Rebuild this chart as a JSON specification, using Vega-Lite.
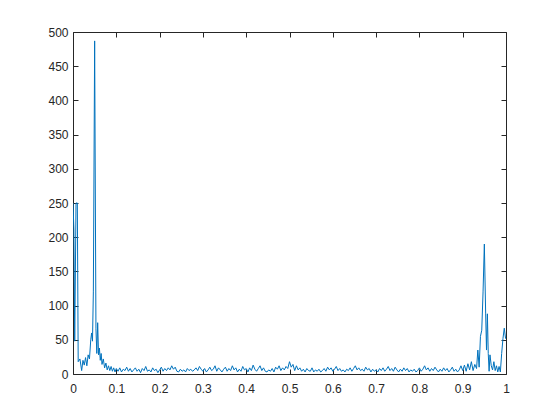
{
  "$schema": "https://vega.github.io/schema/vega-lite/v6.json",
  "width": 433,
  "height": 342,
  "autosize": {"type": "none"},
  "padding": {"left": 73, "top": 32, "right": 54, "bottom": 46},
  "background": "white",
  "config": {
    "view": {"stroke": null},
    "axis": {
      "grid": false,
      "domainColor": "#262626",
      "domainWidth": 1,
      "tickColor": "#262626",
      "tickSize": -5,
      "labelFont": "Liberation Sans",
      "labelFontSize": 12,
      "labelColor": "#262626",
      "title": null
    }
  },
  "data": {
    "values": [
      {"f": 0.000, "a": 250}, {"f": 0.002, "a": 212}, {"f": 0.004, "a": 48}, {"f": 0.007, "a": 250},
      {"f": 0.010, "a": 250}, {"f": 0.012, "a": 18}, {"f": 0.016, "a": 22}, {"f": 0.020, "a": 5},
      {"f": 0.023, "a": 20}, {"f": 0.026, "a": 13}, {"f": 0.029, "a": 24}, {"f": 0.032, "a": 12},
      {"f": 0.035, "a": 28}, {"f": 0.038, "a": 22}, {"f": 0.041, "a": 50}, {"f": 0.043, "a": 60},
      {"f": 0.045, "a": 48}, {"f": 0.047, "a": 120}, {"f": 0.050, "a": 487}, {"f": 0.053, "a": 66},
      {"f": 0.055, "a": 30}, {"f": 0.057, "a": 75}, {"f": 0.059, "a": 28}, {"f": 0.061, "a": 38},
      {"f": 0.063, "a": 20}, {"f": 0.065, "a": 30}, {"f": 0.067, "a": 14}, {"f": 0.070, "a": 22},
      {"f": 0.073, "a": 9}, {"f": 0.076, "a": 16}, {"f": 0.079, "a": 6}, {"f": 0.082, "a": 12},
      {"f": 0.085, "a": 5}, {"f": 0.088, "a": 11}, {"f": 0.091, "a": 4}, {"f": 0.094, "a": 9},
      {"f": 0.097, "a": 3}, {"f": 0.100, "a": 8},
      {"f": 0.104, "a": 4}, {"f": 0.108, "a": 9}, {"f": 0.112, "a": 3}, {"f": 0.116, "a": 7},
      {"f": 0.120, "a": 5}, {"f": 0.124, "a": 10}, {"f": 0.128, "a": 4}, {"f": 0.132, "a": 8},
      {"f": 0.136, "a": 3}, {"f": 0.140, "a": 6}, {"f": 0.144, "a": 9}, {"f": 0.148, "a": 4},
      {"f": 0.152, "a": 7}, {"f": 0.156, "a": 2}, {"f": 0.160, "a": 8}, {"f": 0.164, "a": 5},
      {"f": 0.168, "a": 11}, {"f": 0.172, "a": 4}, {"f": 0.176, "a": 6}, {"f": 0.180, "a": 3},
      {"f": 0.184, "a": 9}, {"f": 0.188, "a": 5}, {"f": 0.192, "a": 7}, {"f": 0.196, "a": 2},
      {"f": 0.200, "a": 6}, {"f": 0.204, "a": 10}, {"f": 0.208, "a": 4}, {"f": 0.212, "a": 8},
      {"f": 0.216, "a": 5}, {"f": 0.220, "a": 9}, {"f": 0.224, "a": 6}, {"f": 0.228, "a": 12},
      {"f": 0.232, "a": 7}, {"f": 0.236, "a": 10}, {"f": 0.240, "a": 4}, {"f": 0.244, "a": 3},
      {"f": 0.248, "a": 7}, {"f": 0.252, "a": 4}, {"f": 0.256, "a": 6}, {"f": 0.260, "a": 3},
      {"f": 0.264, "a": 8}, {"f": 0.268, "a": 5}, {"f": 0.272, "a": 7}, {"f": 0.276, "a": 4},
      {"f": 0.280, "a": 6}, {"f": 0.284, "a": 9}, {"f": 0.288, "a": 5}, {"f": 0.292, "a": 11},
      {"f": 0.296, "a": 7}, {"f": 0.300, "a": 4}, {"f": 0.304, "a": 8}, {"f": 0.308, "a": 3},
      {"f": 0.312, "a": 6}, {"f": 0.316, "a": 10}, {"f": 0.320, "a": 5}, {"f": 0.324, "a": 7},
      {"f": 0.328, "a": 12}, {"f": 0.332, "a": 4}, {"f": 0.336, "a": 9}, {"f": 0.340, "a": 6},
      {"f": 0.344, "a": 3}, {"f": 0.348, "a": 7}, {"f": 0.352, "a": 10}, {"f": 0.356, "a": 4},
      {"f": 0.360, "a": 8}, {"f": 0.364, "a": 5}, {"f": 0.368, "a": 12}, {"f": 0.372, "a": 6},
      {"f": 0.376, "a": 9}, {"f": 0.380, "a": 3}, {"f": 0.384, "a": 7}, {"f": 0.388, "a": 4},
      {"f": 0.392, "a": 11}, {"f": 0.396, "a": 6}, {"f": 0.400, "a": 8}, {"f": 0.404, "a": 3},
      {"f": 0.408, "a": 9}, {"f": 0.412, "a": 5}, {"f": 0.416, "a": 13}, {"f": 0.420, "a": 7},
      {"f": 0.424, "a": 4}, {"f": 0.428, "a": 8}, {"f": 0.432, "a": 12}, {"f": 0.436, "a": 5},
      {"f": 0.440, "a": 9}, {"f": 0.444, "a": 4}, {"f": 0.448, "a": 3}, {"f": 0.452, "a": 6},
      {"f": 0.456, "a": 4}, {"f": 0.460, "a": 8}, {"f": 0.464, "a": 3}, {"f": 0.468, "a": 10},
      {"f": 0.472, "a": 7}, {"f": 0.476, "a": 12}, {"f": 0.480, "a": 5}, {"f": 0.484, "a": 9},
      {"f": 0.488, "a": 6}, {"f": 0.492, "a": 11}, {"f": 0.496, "a": 8}, {"f": 0.500, "a": 18},
      {"f": 0.504, "a": 10}, {"f": 0.508, "a": 14}, {"f": 0.512, "a": 5}, {"f": 0.516, "a": 12},
      {"f": 0.520, "a": 6}, {"f": 0.524, "a": 9}, {"f": 0.528, "a": 4}, {"f": 0.532, "a": 7},
      {"f": 0.536, "a": 3}, {"f": 0.540, "a": 8}, {"f": 0.544, "a": 5}, {"f": 0.548, "a": 4},
      {"f": 0.552, "a": 9}, {"f": 0.556, "a": 3}, {"f": 0.560, "a": 6}, {"f": 0.564, "a": 4},
      {"f": 0.568, "a": 7}, {"f": 0.572, "a": 3}, {"f": 0.576, "a": 5}, {"f": 0.580, "a": 8},
      {"f": 0.584, "a": 4}, {"f": 0.588, "a": 10}, {"f": 0.592, "a": 6}, {"f": 0.596, "a": 9},
      {"f": 0.600, "a": 4}, {"f": 0.604, "a": 7}, {"f": 0.608, "a": 11}, {"f": 0.612, "a": 5},
      {"f": 0.616, "a": 8}, {"f": 0.620, "a": 4}, {"f": 0.624, "a": 6}, {"f": 0.628, "a": 3},
      {"f": 0.632, "a": 7}, {"f": 0.636, "a": 5}, {"f": 0.640, "a": 9}, {"f": 0.644, "a": 4},
      {"f": 0.648, "a": 8}, {"f": 0.652, "a": 12}, {"f": 0.656, "a": 6}, {"f": 0.660, "a": 9},
      {"f": 0.664, "a": 5}, {"f": 0.668, "a": 7}, {"f": 0.672, "a": 4}, {"f": 0.676, "a": 10},
      {"f": 0.680, "a": 6}, {"f": 0.684, "a": 8}, {"f": 0.688, "a": 3}, {"f": 0.692, "a": 7},
      {"f": 0.696, "a": 4}, {"f": 0.700, "a": 6}, {"f": 0.704, "a": 3}, {"f": 0.708, "a": 8},
      {"f": 0.712, "a": 5}, {"f": 0.716, "a": 9}, {"f": 0.720, "a": 4}, {"f": 0.724, "a": 7},
      {"f": 0.728, "a": 11}, {"f": 0.732, "a": 5}, {"f": 0.736, "a": 8}, {"f": 0.740, "a": 4},
      {"f": 0.744, "a": 10}, {"f": 0.748, "a": 6}, {"f": 0.752, "a": 3}, {"f": 0.756, "a": 7},
      {"f": 0.760, "a": 4}, {"f": 0.764, "a": 9}, {"f": 0.768, "a": 5}, {"f": 0.772, "a": 8},
      {"f": 0.776, "a": 3}, {"f": 0.780, "a": 6}, {"f": 0.784, "a": 4}, {"f": 0.788, "a": 7},
      {"f": 0.792, "a": 3}, {"f": 0.796, "a": 5}, {"f": 0.800, "a": 9}, {"f": 0.804, "a": 4},
      {"f": 0.808, "a": 7}, {"f": 0.812, "a": 12}, {"f": 0.816, "a": 6}, {"f": 0.820, "a": 9},
      {"f": 0.824, "a": 4}, {"f": 0.828, "a": 8}, {"f": 0.832, "a": 5}, {"f": 0.836, "a": 10},
      {"f": 0.840, "a": 6}, {"f": 0.844, "a": 3}, {"f": 0.848, "a": 7}, {"f": 0.852, "a": 4},
      {"f": 0.856, "a": 9}, {"f": 0.860, "a": 5}, {"f": 0.864, "a": 8}, {"f": 0.868, "a": 3},
      {"f": 0.872, "a": 6}, {"f": 0.876, "a": 10}, {"f": 0.880, "a": 4}, {"f": 0.884, "a": 7},
      {"f": 0.888, "a": 3}, {"f": 0.892, "a": 6}, {"f": 0.896, "a": 12},
      {"f": 0.900, "a": 5}, {"f": 0.904, "a": 13}, {"f": 0.908, "a": 4}, {"f": 0.912, "a": 15},
      {"f": 0.916, "a": 6}, {"f": 0.920, "a": 18}, {"f": 0.924, "a": 5}, {"f": 0.928, "a": 14},
      {"f": 0.932, "a": 8}, {"f": 0.935, "a": 35}, {"f": 0.938, "a": 10}, {"f": 0.941, "a": 55},
      {"f": 0.944, "a": 64}, {"f": 0.947, "a": 120}, {"f": 0.950, "a": 190}, {"f": 0.953, "a": 89},
      {"f": 0.955, "a": 35}, {"f": 0.957, "a": 88}, {"f": 0.959, "a": 30}, {"f": 0.961, "a": 4},
      {"f": 0.963, "a": 28}, {"f": 0.966, "a": 12}, {"f": 0.969, "a": 6}, {"f": 0.972, "a": 18},
      {"f": 0.975, "a": 5}, {"f": 0.978, "a": 12}, {"f": 0.981, "a": 3}, {"f": 0.984, "a": 11},
      {"f": 0.987, "a": 3}, {"f": 0.990, "a": 30}, {"f": 0.993, "a": 52}, {"f": 0.996, "a": 67},
      {"f": 0.999, "a": 52}, {"f": 1.000, "a": 52}
    ]
  },
  "layer": [
    {
      "mark": {"type": "line", "color": "#0072BD", "strokeWidth": 1, "clip": true},
      "encoding": {
        "x": {"field": "f", "type": "quantitative", "scale": {"domain": [0, 1], "nice": false, "zero": false},
              "axis": {"orient": "bottom", "values": [0, 0.1, 0.2, 0.3, 0.4, 0.5, 0.6, 0.7, 0.8, 0.9, 1], "format": "~g", "labelPadding": 14, "labelFlush": false}},
        "y": {"field": "a", "type": "quantitative", "scale": {"domain": [0, 500], "nice": false},
              "axis": {"orient": "left", "values": [0, 50, 100, 150, 200, 250, 300, 350, 400, 450, 500], "labelPadding": 10, "labelFlush": false}}
      }
    },
    {
      "mark": {"type": "line", "opacity": 0},
      "encoding": {
        "x": {"field": "f", "type": "quantitative",
              "axis": {"orient": "top", "labels": false, "values": [0, 0.1, 0.2, 0.3, 0.4, 0.5, 0.6, 0.7, 0.8, 0.9, 1]}},
        "y": {"field": "a", "type": "quantitative",
              "axis": {"orient": "right", "labels": false, "values": [0, 50, 100, 150, 200, 250, 300, 350, 400, 450, 500]}}
      }
    }
  ],
  "resolve": {"axis": {"x": "independent", "y": "independent"}}
}
